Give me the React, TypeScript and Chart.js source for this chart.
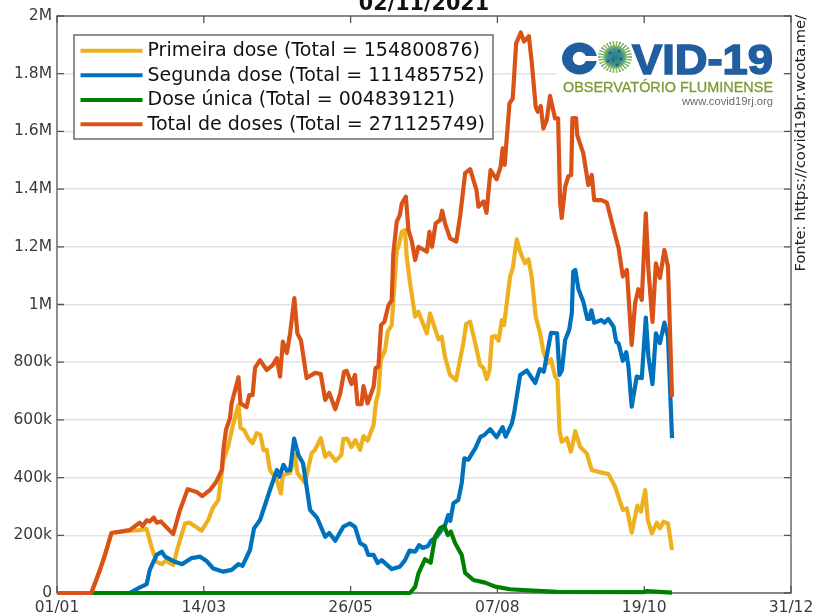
import React, { useEffect, useRef } from "react";
import { Chart, registerables } from "chart.js";

Chart.register(...registerables);

const titleText = "02/11/2021";
const sourceText = "Fonte: https://covid19br.wcota.me/";
const xTickDays = [0, 72.8, 145.6, 218.4, 291.2, 364];
const xTickLabels = ["01/01", "14/03", "26/05", "07/08", "19/10", "31/12"];
const yTickValues = [0, 200000, 400000, 600000, 800000, 1000000, 1200000, 1400000, 1600000, 1800000, 2000000];
const yTickLabels = ["0", "200k", "400k", "600k", "800k", "1M", "1.2M", "1.4M", "1.6M", "1.8M", "2M"];
const seriesLabels = [
  "Primeira dose (Total = 154800876)",
  "Segunda dose (Total = 111485752)",
  "Dose única (Total = 004839121)",
  "Total de doses (Total = 271125749)",
];
const seriesColors = ["#EDB120", "#0072BD", "#008000", "#D95319"];

// Values in thousands of doses
const primeiraDays = [0, 17, 21.3, 23.8, 27, 36, 41, 44.5, 47, 49.4, 52, 54, 57.7, 60, 63.5, 65.6, 71.7, 75, 77.2, 80, 82.5, 84.8, 87.5, 90, 91, 92.8, 94.8, 97, 99, 100.9, 102.4, 104, 105.6, 109, 111, 112, 115.6, 118, 119.2, 123, 126.3, 128, 130.8, 133, 135, 138.2, 141, 142, 144, 146, 148, 150.3, 152, 154, 157, 158.2, 159.4, 160.6, 162.7, 164, 166, 168.5, 169.3, 171, 172.6, 173.4, 175, 177.6, 179.2, 183.4, 185, 186.7, 189.2, 190.8, 192.4, 194.9, 197.9, 201.5, 202.9, 204.9, 207.4, 209.8, 211.5, 213.1, 214.5, 215.7, 217.3, 219, 220.6, 221.7, 224.7, 226, 228, 229.7, 232, 233.8, 235.4, 237.4, 239.6, 241.2, 243.2, 245, 247, 248.2, 249.2, 250.3, 252.8, 254.8, 256, 257, 259.4, 262.7, 265.2, 268.5, 273.5, 276.8, 280.6, 282.6, 285, 287.8, 289.6, 291.7, 293, 295, 297.5, 299, 300.8, 303, 305];
const primeiraValues = [0, 0, 80, 132, 208, 216, 218, 222, 156, 108, 100, 112, 97, 160, 241, 244, 216, 253, 294, 322, 461, 507, 589, 652, 572, 565, 537, 519, 554, 548, 495, 496, 426, 392, 345, 409, 416, 478, 416, 381, 485, 496, 537, 472, 486, 458, 478, 534, 534, 506, 530, 496, 544, 528, 582, 663, 692, 808, 842, 906, 929, 1189, 1200, 1252, 1258, 1166, 1079, 958, 975, 900, 969, 932, 879, 888, 819, 756, 738, 866, 932, 940, 866, 790, 780, 741, 773, 888, 891, 874, 946, 929, 1097, 1125, 1226, 1183, 1143, 1157, 1097, 958, 900, 836, 796, 810, 750, 738, 565, 524, 537, 490, 524, 561, 507, 484, 426, 420, 412, 368, 288, 293, 209, 303, 282, 357, 253, 207, 244, 224, 247, 241, 149];

const segundaDays = [0, 36, 40.4, 44.5, 46, 49.4, 52, 53.6, 58.5, 62, 66.8, 71, 74, 77.5, 82.5, 86.6, 90, 92, 95.7, 97.7, 100.7, 105.6, 109, 110.3, 112.3, 114, 115.6, 117.6, 119.7, 122, 125.5, 129, 133, 135, 138, 142, 145.3, 147.8, 150.3, 152.8, 154.4, 157, 159, 161, 166, 170, 172.6, 174.8, 177.6, 179.6, 181.4, 184, 185.5, 188.3, 192.5, 194, 195, 196.6, 199, 200.7, 202, 204, 207.5, 210, 212, 214.8, 218, 221, 222.5, 225.5, 226.7, 229.7, 233, 237.2, 239.4, 241.4, 245, 248, 249.2, 250.4, 252, 254, 255.3, 256, 257, 258.6, 261, 263, 264, 265, 266.4, 270, 271.5, 273.4, 276, 277.3, 278.5, 280.6, 282.3, 283.4, 285, 287.5, 290, 292, 293.3, 295.3, 297, 299, 301.2, 303, 305];
const segundaValues = [0, 0, 17, 31, 80, 132, 143, 126, 108, 100, 121, 126, 112, 85, 74, 80, 100, 94, 149, 224, 253, 357, 426, 403, 444, 424, 426, 535, 478, 450, 288, 260, 195, 208, 181, 230, 241, 229, 173, 163, 132, 132, 104, 114, 83, 91, 114, 147, 143, 166, 156, 163, 181, 195, 236, 270, 250, 311, 322, 381, 467, 462, 502, 541, 548, 568, 540, 575, 542, 586, 624, 756, 771, 728, 776, 767, 902, 900, 756, 773, 877, 912, 970, 1114, 1120, 1053, 1010, 950, 950, 980, 937, 946, 937, 950, 923, 871, 865, 805, 835, 784, 646, 750, 745, 955, 819, 724, 900, 866, 937, 888, 537];

const unicaDays = [0, 175, 177.6, 179.3, 182.5, 185.3, 187.5, 190, 192, 193.8, 195.3, 197.4, 200.7, 202.4, 206.5, 212.3, 217.3, 224.7, 236, 248, 290.7, 292.5, 296.6, 305];
const unicaValues = [0, 0, 21, 69, 117, 105, 195, 225, 232, 201, 213, 173, 132, 70, 45, 36, 22, 13, 8, 4, 3, 7, 5, 1];

const totalDays = [0, 17, 21.3, 23.8, 27, 36, 41, 42.5, 44.5, 46, 48, 49.4, 51.5, 57.6, 61, 64.8, 69.3, 72, 75.9, 79, 81.7, 82.5, 83.8, 85.8, 86.6, 90, 91, 94, 95.3, 97, 98.2, 100.7, 104, 107, 109, 110.6, 112, 114, 115.6, 117.7, 119.2, 121, 123.8, 128, 130.8, 133, 135, 138, 140.4, 142.4, 143.7, 146, 147.8, 149, 151, 152, 154, 157, 158, 159.4, 160.7, 162.4, 164.4, 166, 166.8, 168.5, 170, 171, 173, 174.3, 176, 177.6, 179.2, 183.4, 184.7, 186, 187.8, 190, 191, 192.4, 194.9, 198, 200, 202.4, 204.9, 208, 209, 211.5, 213, 215, 218, 220, 221, 222, 224.4, 226, 227.7, 230, 231.6, 234, 235.4, 237.4, 238.4, 239.9, 241.2, 242.9, 244.5, 247, 248.5, 249.5, 250.3, 252, 253.6, 255, 255.6, 257.4, 258, 261, 263.5, 265.2, 266.4, 270, 272.7, 276.8, 278.5, 280.6, 282.6, 285, 286.7, 288.3, 290, 292, 293.3, 295.3, 297, 299, 301.2, 303, 305];
const totalValues = [0, 0, 80, 132, 208, 218, 244, 232, 252, 248, 262, 244, 248, 204, 288, 360, 350, 336, 357, 386, 426, 495, 565, 606, 658, 748, 658, 644, 686, 686, 780, 807, 773, 790, 814, 750, 871, 832, 900, 1022, 900, 875, 745, 763, 759, 669, 694, 637, 690, 767, 770, 724, 756, 655, 655, 717, 657, 715, 780, 784, 929, 940, 998, 1015, 1178, 1287, 1310, 1350, 1374, 1258, 1218, 1154, 1200, 1183, 1252, 1200, 1281, 1293, 1325, 1282, 1229, 1218, 1310, 1455, 1469, 1397, 1339, 1357, 1318, 1466, 1434, 1478, 1541, 1484, 1697, 1714, 1905, 1943, 1911, 1930, 1842, 1685, 1668, 1688, 1610, 1640, 1723, 1645, 1645, 1352, 1300, 1408, 1445, 1449, 1646, 1646, 1587, 1524, 1414, 1449, 1362, 1362, 1353, 1241, 1196, 1097, 1120, 860, 1005, 1053, 1016, 1316, 1120, 940, 1143, 1092, 1189, 1131, 680];

const toPoints = (days: number[], values: number[]) =>
  days.map((d, i) => ({ x: d, y: values[i] * 1000 }));

const FONT = '"DejaVu Sans"';
const TICK_COLOR = "#3a3a3a";
const FRAME_COLOR = "#555555";

function fitText(ctx: CanvasRenderingContext2D, text: string, x: number, y: number, w: number, font: string, color: string, bold = 0) {
  ctx.save();
  ctx.font = font;
  ctx.textAlign = "left";
  ctx.textBaseline = "alphabetic";
  const m = ctx.measureText(text).width;
  ctx.translate(x, y);
  ctx.scale(w / m, 1);
  ctx.fillStyle = color;
  ctx.fillText(text, 0, 0);
  if (bold > 0) {
    ctx.strokeStyle = color;
    ctx.lineWidth = bold;
    ctx.strokeText(text, 0, 0);
  }
  ctx.restore();
}

function drawLogo(ctx: CanvasRenderingContext2D) {
  ctx.save();
  ctx.fillStyle = "#ffffff";
  ctx.fillRect(556, 38, 227, 77);
  const blue = "#215E9F";
  // "C" of the emblem: filled ellipse, round hole and a thin slit
  ctx.fillStyle = blue;
  ctx.beginPath();
  ctx.ellipse(579.5, 58.5, 17.5, 16, 0, 0, Math.PI * 2);
  ctx.fill();
  ctx.fillStyle = "#ffffff";
  ctx.beginPath();
  ctx.arc(579.5, 58.5, 6.8, 0, Math.PI * 2);
  ctx.fill();
  ctx.fillRect(580, 56, 20, 5);
  // virus emblem
  const cx = 615;
  const cy = 57;
  for (let i = 0; i < 30; i++) {
    const a = (i / 30) * Math.PI * 2;
    ctx.strokeStyle = i % 2 ? "#8DB54C" : "#5FA58F";
    ctx.lineWidth = 1.3;
    ctx.beginPath();
    ctx.moveTo(cx + Math.cos(a) * 9, cy + Math.sin(a) * 9);
    ctx.lineTo(cx + Math.cos(a) * 16.5, cy + Math.sin(a) * 15.5);
    ctx.stroke();
    ctx.fillStyle = i % 3 ? "#A2C35C" : "#6DAE9A";
    ctx.beginPath();
    ctx.arc(cx + Math.cos(a) * 16, cy + Math.sin(a) * 15, 1.1, 0, Math.PI * 2);
    ctx.fill();
  }
  const g = ctx.createRadialGradient(cx, cy, 1, cx, cy, 11.5);
  g.addColorStop(0, "#2A7C8C");
  g.addColorStop(0.65, "#3F9490");
  g.addColorStop(1, "#8DBB5E");
  ctx.fillStyle = g;
  ctx.beginPath();
  ctx.arc(cx, cy, 11.5, 0, Math.PI * 2);
  ctx.fill();
  ctx.fillStyle = "#1F5F7E";
  [[-5, -4], [4, -6], [6, 2], [-2, 3], [-7, 4], [2, 8]].forEach(([dx, dy]) => {
    ctx.beginPath();
    ctx.arc(cx + dx, cy + dy, 1.5, 0, Math.PI * 2);
    ctx.fill();
  });
  ctx.restore();
  fitText(ctx, "VID-19", 632, 74, 141, 'bold 43px "Liberation Sans"', blue, 1.6);
  fitText(ctx, "OBSERVATÓRIO FLUMINENSE", 563, 92, 210, '14px "Liberation Sans"', "#7B9C33", 0.3);
  fitText(ctx, "www.covid19rj.org", 682, 105, 91, '10.5px "Liberation Sans"', "#6A6A6A");
}

function drawFrame(chart: any) {
  const { ctx, chartArea: a, scales } = chart;
  ctx.save();
  ctx.strokeStyle = FRAME_COLOR;
  ctx.lineWidth = 1.3;
  ctx.strokeRect(a.left, a.top, a.right - a.left, a.bottom - a.top);
  const len = 7;
  ctx.beginPath();
  scales.y.ticks.forEach((t: any) => {
    const p = scales.y.getPixelForValue(t.value);
    ctx.moveTo(a.left, p);
    ctx.lineTo(a.left + len, p);
    ctx.moveTo(a.right - len, p);
    ctx.lineTo(a.right, p);
  });
  scales.x.ticks.forEach((t: any) => {
    const p = scales.x.getPixelForValue(t.value);
    ctx.moveTo(p, a.top);
    ctx.lineTo(p, a.top + len);
    ctx.moveTo(p, a.bottom);
    ctx.lineTo(p, a.bottom - len);
  });
  ctx.stroke();
  ctx.restore();
}

function drawLegend(ctx: CanvasRenderingContext2D) {
  const rows = [50.7, 75.3, 100, 124.2];
  ctx.save();
  ctx.fillStyle = "#ffffff";
  ctx.fillRect(74, 35, 419, 104);
  ctx.strokeStyle = FRAME_COLOR;
  ctx.lineWidth = 1.3;
  ctx.strokeRect(74, 35, 419, 104);
  ctx.font = `19px ${FONT}`;
  ctx.textAlign = "left";
  ctx.textBaseline = "middle";
  seriesLabels.forEach((label, i) => {
    ctx.strokeStyle = seriesColors[i];
    ctx.lineWidth = 4;
    ctx.beginPath();
    ctx.moveTo(80.5, rows[i]);
    ctx.lineTo(142.5, rows[i]);
    ctx.stroke();
    ctx.fillStyle = "#111111";
    ctx.fillText(label, 147.5, rows[i] + 0.5);
  });
  ctx.restore();
}

const decorPlugin = {
  id: "decor",
  beforeDatasetsDraw(chart: any) {
    drawLogo(chart.ctx);
    drawFrame(chart);
  },
  afterDatasetsDraw(chart: any) {
    const { ctx } = chart;
    ctx.save();
    ctx.fillStyle = "#111111";
    ctx.font = `bold 20.7px ${FONT}`;
    ctx.textAlign = "center";
    ctx.textBaseline = "alphabetic";
    ctx.fillText(titleText, 424, 10);
    ctx.translate(805, 271.5);
    ctx.rotate(-Math.PI / 2);
    ctx.font = `14.7px ${FONT}`;
    ctx.textAlign = "left";
    ctx.fillStyle = "#222222";
    ctx.fillText(sourceText, 0, 0);
    ctx.restore();
    drawLegend(ctx);
  },
};

export default function App() {
  const ref = useRef<HTMLCanvasElement | null>(null);
  useEffect(() => {
    if (!ref.current) return;
    const mk = (i: number, days: number[], values: number[]) => ({
      label: seriesLabels[i],
      data: toPoints(days, values),
      borderColor: seriesColors[i],
      backgroundColor: seriesColors[i],
      borderWidth: 4.2,
      pointRadius: 0,
      tension: 0,
      fill: false,
      clip: false as any,
      order: 4 - i,
      borderJoinStyle: "round" as const,
      borderCapStyle: "butt" as const,
    });
    const chart = new Chart(ref.current, {
      type: "line",
      data: {
        datasets: [
          mk(0, primeiraDays, primeiraValues),
          mk(1, segundaDays, segundaValues),
          mk(2, unicaDays, unicaValues),
          mk(3, totalDays, totalValues),
        ],
      },
      options: {
        animation: false,
        responsive: false,
        devicePixelRatio: 1,
        parsing: false,
        normalized: true,
        layout: { padding: { top: 16, right: 23, left: 0, bottom: 0 } },
        plugins: { legend: { display: false }, title: { display: false }, tooltip: { enabled: false } },
        scales: {
          x: {
            type: "linear",
            min: 0,
            max: 364,
            grid: { display: false, drawTicks: false },
            border: { display: false },
            afterBuildTicks(scale: any) {
              scale.ticks = xTickDays.map((value) => ({ value }));
            },
            afterFit(scale: any) {
              scale.height = 22;
              scale.paddingLeft = 0;
              scale.paddingRight = 0;
            },
            ticks: {
              autoSkip: false,
              maxRotation: 0,
              padding: 6,
              color: TICK_COLOR,
              font: { family: "DejaVu Sans", size: 15.5 },
              callback: (_v: any, i: number) => xTickLabels[i],
            },
          },
          y: {
            type: "linear",
            min: 0,
            max: 2000000,
            grid: { color: "#e2e2e2", lineWidth: 1.5, drawTicks: false },
            border: { display: false },
            afterBuildTicks(scale: any) {
              scale.ticks = yTickValues.map((value) => ({ value }));
            },
            afterFit(scale: any) {
              scale.width = 57;
              scale.paddingTop = 0;
              scale.paddingBottom = 0;
            },
            ticks: {
              padding: 5,
              color: TICK_COLOR,
              font: { family: "DejaVu Sans", size: 15.5 },
              callback: (_v: any, i: number) => yTickLabels[i],
            },
          },
        },
      },
      plugins: [decorPlugin],
    });
    return () => chart.destroy();
  }, []);
  return (
    <div style={{ position: "absolute", left: 0, top: 0, width: 814, height: 615, background: "#fff" }}>
      <canvas ref={ref} width={814} height={615} style={{ display: "block" }} />
    </div>
  );
}
